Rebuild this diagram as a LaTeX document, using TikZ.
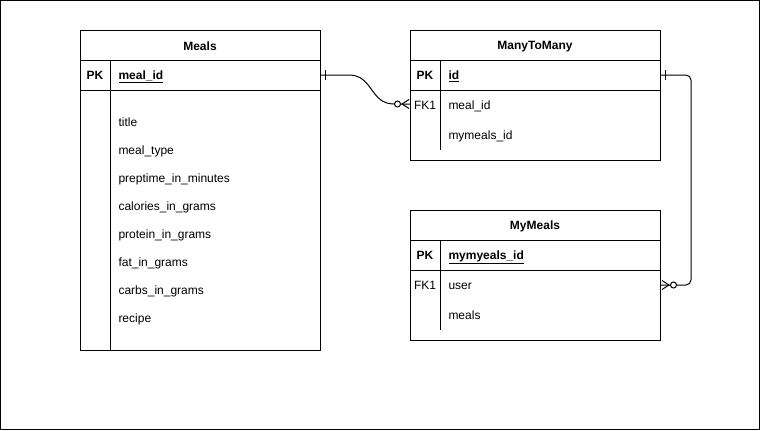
\documentclass[tikz,border=0pt]{standalone}
\usepackage{fontspec}
\setmainfont{Liberation Sans}
\usetikzlibrary{arrows.meta, positioning}
\newcommand{\erfont}{\fontsize{12}{14}\selectfont}

\begin{document}
\begin{tikzpicture}[x=1pt, y=-1pt, line width=1pt,
  tbl/.style={draw, anchor=north west, inner sep=0pt},
  head/.style={font=\erfont\bfseries, yshift=-1.5pt},
  key/.style={font=\erfont\bfseries, text height=8.7pt, text depth=2.5pt, yshift=-1.5pt},
  fld/.style={font=\erfont, anchor=west, inner sep=0pt, text height=8.7pt, text depth=2.5pt, yshift=-1.5pt},
  tag/.style={font=\erfont, text height=8.7pt, text depth=2.5pt, yshift=-1.5pt}]
 \useasboundingbox (0,0) rectangle (761,431);
 \draw (0.5,0.5) rectangle (759.5,429.5);
 % Meals
 \node[tbl, minimum width=240, minimum height=320] (meals) at (80,30){};
 \draw (80,60) -- (320,60) (80,90) -- (320,90) (110,60) -- (110,350);
 \node[head] (mealshead) at (200,45){Meals};
 \node[key] (mealspk) at (95,75){PK};
 \node[fld, font=\erfont\bfseries] (mealsid) at (118,75){\underline{meal\_id}};
 \node[fld] (mtitle) at (118,122){title};
 \node[fld] (mtype) at (118,150){meal\_type};
 \node[fld] (mprep) at (118,178){preptime\_in\_minutes};
 \node[fld] (mcal) at (118,206){calories\_in\_grams};
 \node[fld] (mprot) at (118,234){protein\_in\_grams};
 \node[fld] (mfat) at (118,262){fat\_in\_grams};
 \node[fld] (mcarbs) at (118,290){carbs\_in\_grams};
 \node[fld] (mrecipe) at (118,318){recipe};
 % ManyToMany
 \node[tbl, minimum width=250, minimum height=130] (mtm) at (410,30){};
 \draw (410,60) -- (660,60) (410,90) -- (660,90) (440,60) -- (440,150);
 \node[head] (mtmhead) at (535,45){ManyToMany};
 \node[key] (mtmpk) at (425,75){PK};
 \node[fld, font=\erfont\bfseries] (mtmid) at (448,75){\underline{id}};
 \node[tag] (mtmfk) at (425,105){FK1};
 \node[fld] (fkmeal) at (448,105){meal\_id};
 \node[fld] (fkmymeals) at (448,135){mymeals\_id};
 % MyMeals
 \node[tbl, minimum width=250, minimum height=130] (mymeals) at (410,210){};
 \draw (410,240) -- (660,240) (410,270) -- (660,270) (440,240) -- (440,330);
 \node[head] (mymhead) at (535,225){MyMeals};
 \node[key] (mympk) at (425,255){PK};
 \node[fld, font=\erfont\bfseries] (mymid) at (448,255){\underline{mymyeals\_id}};
 \node[tag] (mymfk) at (425,285){FK1};
 \node[fld] (mymuser) at (448,285){user};
 \node[fld] (mymmeals) at (448,315){meals};
 % relations
 \coordinate (r1s) at ([yshift=-45pt]meals.north east);
 \coordinate (r1e) at ([yshift=-74pt]mtm.north west);
 \draw (r1s) -- ++(28,0) .. controls +(24,0) and +(-24,0) .. ([xshift=-16pt]r1e) -- (r1e);
 \draw ([xshift=4pt]r1s) +(0,-5) -- +(0,5);
 \draw[fill=white] ([xshift=-12.5pt]r1e) circle (3);
 \draw ([xshift=-8pt]r1e) -- ([xshift=-1pt,yshift=-4.5pt]r1e)
       ([xshift=-8pt]r1e) -- ([xshift=-1pt,yshift=4.5pt]r1e);
 \coordinate (r2s) at ([yshift=-45pt]mtm.north east);
 \coordinate (r2e) at ([yshift=-75pt]mymeals.north east);
 \draw[rounded corners=5pt] (r2s) -- ([xshift=30pt]r2s) |- (r2e);
 \draw ([xshift=4pt]r2s) +(0,-5) -- +(0,5);
 \draw[fill=white] ([xshift=12.5pt]r2e) circle (3);
 \draw ([xshift=8pt]r2e) -- ([xshift=1pt,yshift=-4.5pt]r2e)
       ([xshift=8pt]r2e) -- ([xshift=1pt,yshift=4.5pt]r2e);
\end{tikzpicture}
\end{document}
